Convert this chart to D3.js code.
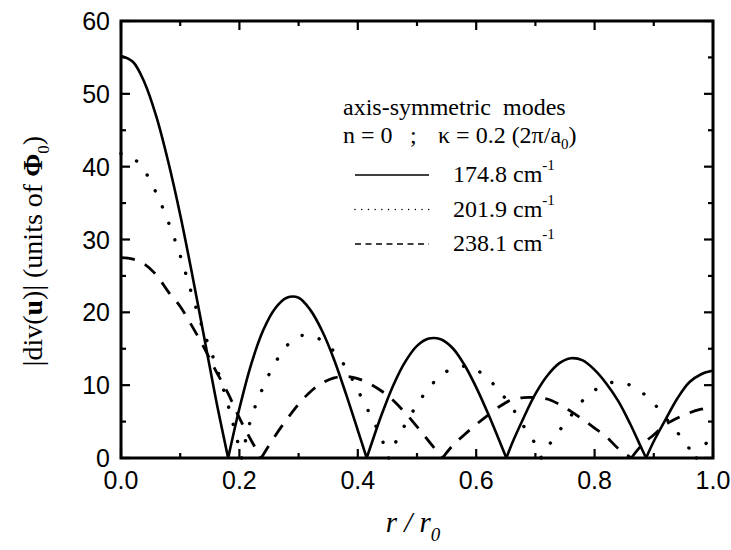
<!DOCTYPE html>
<html>
<head>
<meta charset="utf-8">
<script src="https://cdn.jsdelivr.net/npm/d3@7"></script>
<style>
  body { margin: 0; background: #fff; }
</style>
</head>
<body>
<div class="chart"></div>
<script>
  const width = 731;
  const height = 550;
  const margin = {
    top: 21,
    right: 18,
    bottom: 92,
    left: 121,
  }

  // r / r0 positions and |div(u)| values
  const xSolid = [0, 0.02, 0.04, 0.06, 0.08, 0.10, 0.12, 0.14, 0.16, 0.181, 0.20, 0.22, 0.24, 0.26, 0.28, 0.30,
    0.32, 0.34, 0.36, 0.38, 0.40, 0.415, 0.42, 0.44, 0.46, 0.48, 0.50, 0.52, 0.54, 0.56, 0.58, 0.60, 0.62, 0.64,
    0.651, 0.66, 0.68, 0.70, 0.72, 0.74, 0.76, 0.78, 0.80, 0.82, 0.84, 0.86, 0.88, 0.887, 0.90, 0.92, 0.94, 0.96, 0.98, 1.00]
  const ySolid = [55.2, 54.4, 51.5, 46.8, 40.6, 33.4, 25.3, 16.8, 8.2, 0, 6.8, 12.9, 17.5, 20.5, 22.0, 22.0,
    20.3, 17.4, 13.5, 8.8, 3.8, 0, 1.2, 5.9, 10.0, 13.2, 15.4, 16.4, 16.3, 15.1, 12.8, 9.7, 6.1, 2.2,
    0, 1.9, 5.5, 8.8, 11.3, 13.0, 13.7, 13.4, 12.1, 10.2, 7.8, 4.7, 1.2, 0, 2.3, 5.3, 8.2, 10.4, 11.5, 12.0]

  const xDotted = [0, 0.02, 0.04, 0.06, 0.08, 0.10, 0.12, 0.14, 0.16, 0.18, 0.204, 0.22, 0.24, 0.26, 0.28, 0.30,
    0.32, 0.34, 0.36, 0.38, 0.40, 0.42, 0.44, 0.452, 0.46, 0.48, 0.50, 0.52, 0.54, 0.56, 0.58, 0.60, 0.62, 0.64,
    0.66, 0.68, 0.70, 0.71, 0.72, 0.74, 0.76, 0.78, 0.80, 0.82, 0.84, 0.86, 0.88, 0.90, 0.92, 0.94, 0.96, 0.972, 0.98, 1.00]
  const yDotted = [41.8, 41.2, 39.4, 36.3, 32.4, 27.8, 22.4, 17.3, 12.8, 7.5, 0, 5.5, 9.7, 13.0, 15.4, 16.7,
    16.8, 16.1, 14.6, 12.4, 9.3, 6.1, 2.7, 0, 1.5, 4.6, 7.3, 9.6, 11.3, 12.3, 12.6, 12.1, 10.9, 9.1,
    7.0, 4.4, 1.9, 0, 1.4, 3.7, 5.8, 7.9, 9.3, 10.2, 10.4, 10.0, 9.0, 7.5, 5.5, 3.5, 1.3, 0, 1.2, 3.0]

  const xDashed = [0, 0.02, 0.04, 0.06, 0.08, 0.10, 0.12, 0.14, 0.16, 0.18, 0.20, 0.22, 0.237, 0.26, 0.28, 0.30,
    0.32, 0.34, 0.36, 0.38, 0.40, 0.42, 0.44, 0.46, 0.48, 0.50, 0.52, 0.543, 0.56, 0.58, 0.60, 0.62, 0.64, 0.66,
    0.68, 0.70, 0.72, 0.74, 0.76, 0.78, 0.80, 0.82, 0.84, 0.862, 0.88, 0.90, 0.92, 0.94, 0.96, 0.98, 1.00]
  const yDashed = [27.5, 27.3, 26.6, 25.1, 22.8, 20.8, 18.1, 15.2, 12.0, 9.0, 5.5, 2.4, 0, 3.0, 5.3, 7.4,
    9.1, 10.3, 11.0, 11.2, 10.9, 10.2, 9.2, 7.9, 6.2, 4.3, 2.3, 0, 1.7, 3.2, 4.6, 5.9, 7.1, 8.0,
    8.3, 8.3, 8.1, 7.4, 6.4, 5.3, 4.1, 2.9, 1.3, 0, 1.8, 3.2, 4.6, 5.5, 6.2, 6.7, 7.0]

  const seriesNames = ['174.8', '201.9', '238.1']
  const xTicks = [0, 0.2, 0.4, 0.6, 0.8, 1.0]
  const yTicks = [0, 10, 20, 30, 40, 50, 60]

  const serif = '"Liberation Serif", "Times New Roman", serif'
  const sans = '"Liberation Sans", Arial, sans-serif'

  const series = [
    { name: seriesNames[0], xs: xSolid, ys: ySolid, dash: null, width: 2.6, cap: 'butt', legDash: null },
    { name: seriesNames[1], xs: xDotted, ys: yDotted, dash: '0.1 17.5', width: 3.4, cap: 'round', legDash: '0.1 6.6' },
    { name: seriesNames[2], xs: xDashed, ys: yDashed, dash: '14 11', width: 2.8, cap: 'butt', legDash: '6 4.5' },
  ]

  const svg = d3.select('.chart').append('svg')
    .attr('width', width)
    .attr('height', height)

  const xScale = d3.scaleLinear()
    .domain([0, 1])
    .range([margin.left, width - margin.right])

  const yScale = d3.scaleLinear()
    .domain([0, 60])
    .range([height - margin.bottom, margin.top])

  // split each curve into arches at the zeros so the cusps stay sharp
  const line = d3.line()
    .x(d => xScale(d[0]))
    .y(d => yScale(d[1]))
    .curve(d3.curveCatmullRom.alpha(0.5))

  function archPath(xs, ys){
    const pts = xs.map((x, i) => [x, ys[i]])
    let arches = []
    let cur = []
    pts.forEach((p, i) => {
      cur.push(p)
      if (p[1] === 0 && i > 0 && i < pts.length - 1) {
        arches.push(cur)
        cur = [p]
      }
    })
    arches.push(cur)
    return arches.map(a => line(a)).join('')
  }

  const plot = svg.append('g').attr('class', 'curves')

  plot.selectAll('path')
    .data(series)
    .join('path')
    .attr('d', d => archPath(d.xs, d.ys))
    .attr('fill', 'none')
    .attr('stroke', '#000')
    .attr('stroke-width', d => d.width)
    .attr('stroke-linecap', d => d.cap)
    .attr('stroke-dasharray', d => d.dash)

  // frame with inward ticks on all four sides
  const x0 = xScale(0), x1 = xScale(1), y0 = yScale(0), y1 = yScale(60)
  const axes = svg.append('g').attr('class', 'axes')
    .attr('stroke', '#000')
    .attr('stroke-width', 2.2)

  const xMinor = d3.range(0, 1.0001, 0.1)
  const yMinor = d3.range(0, 60.001, 5)

  xMinor.forEach((v, i) => {
    const len = i % 2 === 0 ? 9 : 5
    axes.append('line').attr('x1', xScale(v)).attr('x2', xScale(v)).attr('y1', y0).attr('y2', y0 - len)
    axes.append('line').attr('x1', xScale(v)).attr('x2', xScale(v)).attr('y1', y1).attr('y2', y1 + len)
  })
  yMinor.forEach((v, i) => {
    const len = i % 2 === 0 ? 9 : 5
    axes.append('line').attr('y1', yScale(v)).attr('y2', yScale(v)).attr('x1', x0).attr('x2', x0 + len)
    axes.append('line').attr('y1', yScale(v)).attr('y2', yScale(v)).attr('x1', x1).attr('x2', x1 - len)
  })

  svg.append('rect')
    .attr('x', x0)
    .attr('y', y1)
    .attr('width', x1 - x0)
    .attr('height', y0 - y1)
    .attr('fill', 'none')
    .attr('stroke', '#000')
    .attr('stroke-width', 3)

  svg.append('g')
    .selectAll('text')
    .data(xTicks)
    .join('text')
    .attr('x', d => xScale(d))
    .attr('y', y0 + 31)
    .attr('text-anchor', 'middle')
    .style('font-family', sans)
    .attr('font-size', '25px')
    .text(d => d.toFixed(1))

  svg.append('g')
    .selectAll('text')
    .data(yTicks)
    .join('text')
    .attr('x', x0 - 11)
    .attr('y', d => yScale(d) + 9)
    .attr('text-anchor', 'end')
    .style('font-family', sans)
    .attr('font-size', '25px')
    .text(d => d)

  // axis titles
  const xTitle = svg.append('text')
    .attr('x', (x0 + x1) / 2 - 4)
    .attr('y', 532)
    .attr('text-anchor', 'middle')
    .style('font-family', serif)
    .style('font-style', 'italic')
    .attr('font-size', '29px')
  xTitle.append('tspan').text('r / r')
  xTitle.append('tspan').attr('font-size', '19px').attr('dy', 9).text('0')

  const yTitle = svg.append('text')
    .attr('transform', `translate(42, 251) rotate(-90)`)
    .attr('text-anchor', 'middle')
    .style('font-family', serif)
    .attr('font-size', '28px')
  yTitle.append('tspan').text('|div(')
  yTitle.append('tspan').attr('font-weight', 'bold').text('u')
  yTitle.append('tspan').text(')| (units of ')
  yTitle.append('tspan').attr('font-weight', 'bold').text('Φ')
  yTitle.append('tspan').attr('font-size', '17px').attr('dy', 7).text('0')
  yTitle.append('tspan').attr('dy', -7).text(')')

  // legend block
  const legend = svg.append('g')
    .attr('class', 'legend')
    .style('font-family', serif)
    .attr('font-size', '24px')

  legend.append('text')
    .attr('x', 343)
    .attr('y', 115)
    .attr('xml:space', 'preserve')
    .text('axis-symmetric  modes')

  legend.append('text').attr('x', 343).attr('y', 143).text('n = 0')
  legend.append('text').attr('x', 410).attr('y', 143).text(';')
  const kappa = legend.append('text').attr('x', 438).attr('y', 143)
  kappa.append('tspan').text('κ = 0.2 (2π/a')
  kappa.append('tspan').attr('font-size', '15px').attr('dy', 6).text('0')
  kappa.append('tspan').attr('dy', -6).text(')')

  const entry = legend.selectAll('g.entry')
    .data(series)
    .join('g')
    .attr('class', 'entry')
    .attr('transform', (d, i) => `translate(0, ${175 + i * 34.5})`)

  entry.append('line')
    .attr('x1', 355)
    .attr('x2', 429)
    .attr('stroke', '#000')
    .attr('stroke-width', 1.4)
    .attr('stroke-linecap', d => d.cap)
    .attr('stroke-dasharray', d => d.legDash)

  const label = entry.append('text')
    .attr('x', 453)
    .attr('y', 7)
  label.append('tspan').text(d => d.name + ' cm')
  label.append('tspan').attr('font-size', '15px').attr('dy', -12).text('-1')
</script>
</body>
</html>
